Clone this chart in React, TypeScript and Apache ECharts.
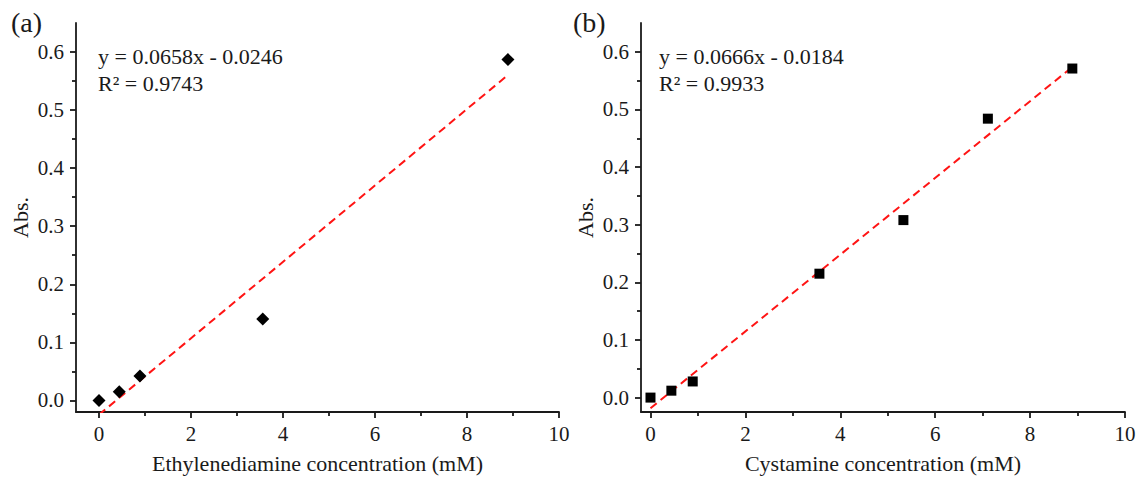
import React, { useEffect, useRef } from "react";
import * as echarts from "echarts";

// Panel (a): Ethylenediamine
const concA = [0, 0.44, 0.89, 3.56, 8.89];
const absA = [0, 0.015, 0.042, 0.14, 0.587];
const fitA = [
  [0, -0.0246],
  [8.89, 0.5604],
];
const eqA = "y = 0.0658x - 0.0246";
const r2A = "R² = 0.9743";

// Panel (b): Cystamine
const concB = [0, 0.44, 0.89, 3.56, 5.33, 7.11, 8.89];
const absB = [0, 0.012, 0.028, 0.215, 0.308, 0.484, 0.571];
const fitB = [
  [0, -0.0184],
  [8.89, 0.5737],
];
const eqB = "y = 0.0666x - 0.0184";
const r2B = "R² = 0.9933";

const xMajor = [0, 2, 4, 6, 8, 10];
const xMinor = [1, 3, 5, 7, 9];
const yMajor = [0, 0.1, 0.2, 0.3, 0.4, 0.5, 0.6];
const yMinor = [0.05, 0.15, 0.25, 0.35, 0.45, 0.55];

const FONT = "'Liberation Serif', 'Times New Roman', serif";
const INK = "#1a1a1a";

export default function App() {
  const ref = useRef<HTMLDivElement>(null);

  useEffect(() => {
    if (!ref.current) return;
    const chart = echarts.init(ref.current, undefined, { renderer: "svg" });

    const grids = [
      { left: 76, top: 23, width: 483, height: 390 },
      { left: 641, top: 23, width: 484, height: 390 },
    ];
    const xMins = [-0.5, -0.2];
    const yMins = [-0.02, -0.025];
    const xNames = [
      "Ethylenediamine concentration (mM)",
      "Cystamine concentration (mM)",
    ];

    const axisLineStyle = { color: INK, width: 1.8 };

    const xAxis: any[] = [];
    const yAxis: any[] = [];
    [0, 1].forEach((g) => {
      xAxis.push({
        type: "value",
        gridIndex: g,
        position: "bottom",
        min: xMins[g],
        max: 10,
        name: xNames[g],
        nameLocation: "middle",
        nameGap: 40,
        nameTextStyle: { fontFamily: FONT, fontSize: 22, color: INK },
        axisLine: { show: true, onZero: false, lineStyle: axisLineStyle },
        axisTick: {
          show: true,
          inside: false,
          length: 6,
          customValues: xMajor,
          lineStyle: axisLineStyle,
        },
        axisLabel: {
          show: true,
          customValues: xMajor,
          margin: 11,
          fontFamily: FONT,
          fontSize: 21,
          color: INK,
          formatter: (v: number) => String(v),
        },
        splitLine: { show: false },
      });
      xAxis.push({
        type: "value",
        gridIndex: g,
        position: "bottom",
        offset: 0,
        min: xMins[g],
        max: 10,
        axisLine: { show: false, onZero: false },
        axisTick: {
          show: true,
          inside: false,
          length: 4,
          customValues: xMinor,
          lineStyle: axisLineStyle,
        },
        axisLabel: { show: false },
        splitLine: { show: false },
      });
      yAxis.push({
        type: "value",
        gridIndex: g,
        position: "left",
        min: yMins[g],
        max: 0.65,
        name: "Abs.",
        nameLocation: "middle",
        nameGap: 45,
        nameTextStyle: { fontFamily: FONT, fontSize: 22, color: INK },
        axisLine: { show: true, onZero: false, lineStyle: axisLineStyle },
        axisTick: {
          show: true,
          inside: false,
          length: 6,
          customValues: yMajor,
          lineStyle: axisLineStyle,
        },
        axisLabel: {
          show: true,
          customValues: yMajor,
          margin: 12,
          fontFamily: FONT,
          fontSize: 21,
          color: INK,
          formatter: (v: number) => v.toFixed(1),
        },
        splitLine: { show: false },
      });
      yAxis.push({
        type: "value",
        gridIndex: g,
        position: "left",
        offset: 0,
        min: yMins[g],
        max: 0.65,
        axisLine: { show: false, onZero: false },
        axisTick: {
          show: true,
          inside: false,
          length: 4,
          customValues: yMinor,
          lineStyle: axisLineStyle,
        },
        axisLabel: { show: false },
        splitLine: { show: false },
      });
    });

    const dash = {
      color: "#ff1414",
      width: 2,
      type: [8, 5] as any,
    };

    const option: any = {
      animation: false,
      backgroundColor: "#ffffff",
      grid: grids,
      xAxis,
      yAxis,
      series: [
        {
          type: "line",
          xAxisIndex: 0,
          yAxisIndex: 0,
          data: fitA,
          showSymbol: false,
          symbol: "none",
          clip: true,
          lineStyle: dash,
          z: 2,
        },
        {
          type: "scatter",
          xAxisIndex: 0,
          yAxisIndex: 0,
          data: concA.map((x, i) => [x, absA[i]]),
          symbol: "diamond",
          symbolSize: 13,
          itemStyle: { color: "#000000", opacity: 1 },
          z: 3,
        },
        {
          type: "line",
          xAxisIndex: 2,
          yAxisIndex: 2,
          data: fitB,
          showSymbol: false,
          symbol: "none",
          clip: true,
          lineStyle: dash,
          z: 2,
        },
        {
          type: "scatter",
          xAxisIndex: 2,
          yAxisIndex: 2,
          data: concB.map((x, i) => [x, absB[i]]),
          symbol: "rect",
          symbolSize: 10,
          itemStyle: { color: "#000000", opacity: 1 },
          z: 3,
        },
      ],
      graphic: [
        {
          type: "text",
          left: 11,
          top: 8,
          style: { text: "(a)", font: `28px ${FONT}`, fill: INK },
        },
        {
          type: "text",
          left: 573,
          top: 8,
          style: { text: "(b)", font: `28px ${FONT}`, fill: INK },
        },
        {
          type: "text",
          left: 98,
          top: 45,
          style: { text: eqA, font: `22px ${FONT}`, fill: INK },
        },
        {
          type: "text",
          left: 98,
          top: 72,
          style: { text: r2A, font: `22px ${FONT}`, fill: INK },
        },
        {
          type: "text",
          left: 659,
          top: 45,
          style: { text: eqB, font: `22px ${FONT}`, fill: INK },
        },
        {
          type: "text",
          left: 659,
          top: 72,
          style: { text: r2B, font: `22px ${FONT}`, fill: INK },
        },
      ],
    };

    chart.setOption(option);
    return () => {
      chart.dispose();
    };
  }, []);

  return (
    <div
      ref={ref}
      style={{
        position: "fixed",
        left: 0,
        top: 0,
        width: 1139,
        height: 479,
        background: "#fff",
      }}
    />
  );
}
